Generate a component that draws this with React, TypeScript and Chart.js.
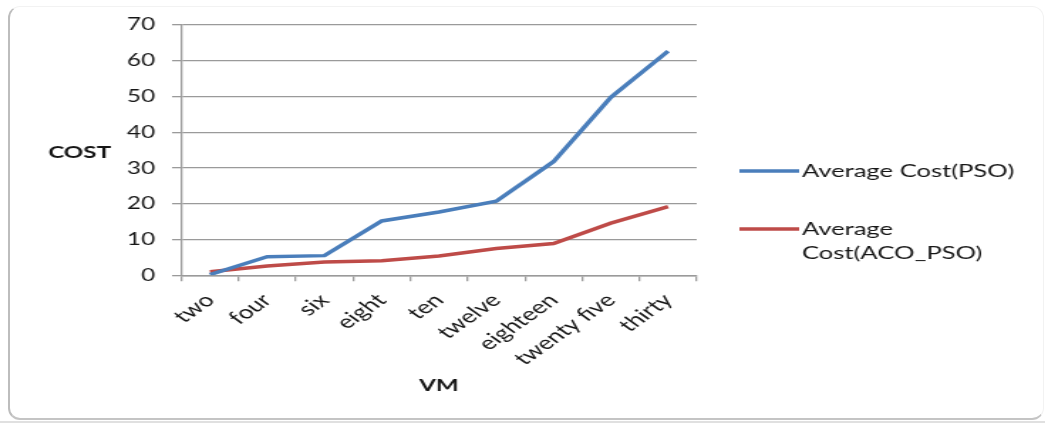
import React, { useEffect, useRef } from 'react';
import { Chart, registerables } from 'chart.js';

Chart.register(...registerables);

// ---- data ----
const categories = ['two', 'four', 'six', 'eight', 'ten', 'twelve', 'eighteen', 'twenty five', 'thirty'];
const psoCost = [0.2, 5.2, 5.5, 15.2, 17.7, 20.7, 31.8, 49.8, 62.7];
const acoPsoCost = [1.0, 2.6, 3.7, 4.1, 5.4, 7.5, 8.9, 14.6, 19.2];
const yMin = 0;
const yMax = 70;
const yStep = 10;
const yTitle = 'COST';
const xTitle = 'VM';
const seriesNames = ['Average Cost(PSO)', 'Average Cost(ACO_PSO)'];
const legendLines = [['Average Cost(PSO)'], ['Average', 'Cost(ACO_PSO)']];
const seriesColors = ['#4A7EBB', '#BE4B48'];

// ---- layout (the original picture is horizontally stretched) ----
const STRETCH = 1.42;
const FULL_W = 1045;
const FULL_H = 425;
const CW = FULL_W / STRETCH;
const FONT = 'Lato';
const GRID = '#9a9a9a';
const TEXT = '#161616';

const overlay = {
  id: 'overlay',
  afterDraw(chart: any) {
    const ctx = chart.ctx;
    const ca = chart.chartArea;
    ctx.save();
    ctx.fillStyle = TEXT;
    ctx.textAlign = 'center';
    ctx.textBaseline = 'middle';
    ctx.font = `bold 17px ${FONT}`;
    ctx.fillText(yTitle, 56, 153);
    ctx.fillText(xTitle, (ca.left + ca.right) / 2, 386);

    // legend
    const lx0 = 520;
    const lx1 = 562;
    const rows = [171, 229];
    ctx.font = `18px ${FONT}`;
    ctx.textAlign = 'left';
    legendLines.forEach((lines, i) => {
      const y = rows[i];
      ctx.strokeStyle = seriesColors[i];
      ctx.lineWidth = 3.5;
      ctx.beginPath();
      ctx.moveTo(lx0, y);
      ctx.lineTo(lx1, y);
      ctx.stroke();
      lines.forEach((t, j) => {
        ctx.fillText(t, lx1 + 2, y + j * 24);
      });
    });
    ctx.restore();
  },
};

export default function App() {
  const ref = useRef<HTMLCanvasElement | null>(null);

  useEffect(() => {
    if (!ref.current) return;
    const chart = new Chart(ref.current, {
      type: 'line',
      data: {
        labels: categories,
        datasets: [
          {
            label: seriesNames[0],
            data: psoCost,
            borderColor: seriesColors[0],
            backgroundColor: seriesColors[0],
            borderWidth: 3.5,
            pointRadius: 0,
            tension: 0,
            fill: false,
          },
          {
            label: seriesNames[1],
            data: acoPsoCost,
            borderColor: seriesColors[1],
            backgroundColor: seriesColors[1],
            borderWidth: 3.5,
            pointRadius: 0,
            tension: 0,
            fill: false,
          },
        ],
      },
      options: {
        animation: false,
        responsive: true,
        maintainAspectRatio: false,
        layout: { padding: { top: 25, right: CW - 490, bottom: FULL_H - 275.3 - 100, left: 0 } },
        plugins: { legend: { display: false }, tooltip: { enabled: false } },
        scales: {
          x: {
            offset: true,
            grid: { offset: true, drawOnChartArea: false, drawTicks: true, tickLength: 6, color: GRID, lineWidth: 1.3 },
            border: { color: GRID, width: 1.5 },
            ticks: {
              autoSkip: false,
              minRotation: 45,
              maxRotation: 45,
              padding: 8,
              color: TEXT,
              font: { family: FONT, size: 18.5 },
            },
            afterFit: (s: any) => {
              s.height = 100;
            },
          },
          y: {
            min: yMin,
            max: yMax,
            ticks: { stepSize: yStep, padding: 12, color: TEXT, font: { family: FONT, size: 17 } },
            grid: { color: GRID, lineWidth: 1.3, tickLength: 6.5 },
            border: { color: GRID, width: 1.3 },
            afterFit: (s: any) => {
              s.width = 127.5;
            },
          },
        },
      },
      plugins: [overlay],
    });
    return () => chart.destroy();
  }, []);

  return (
    <div style={{ position: 'fixed', left: 0, top: 0, width: FULL_W, height: FULL_H, background: '#fff', overflow: 'hidden' }}>
      <div
        style={{
          position: 'absolute',
          left: 8,
          top: 6,
          width: 1036,
          height: 414,
          borderLeft: '2px solid #bdbdbd',
          borderBottom: '2px solid #c4c4c4',
          borderTop: '1px solid #f2f2f2',
          borderRight: '1px solid #f2f2f2',
          borderRadius: 12,
          boxSizing: 'border-box',
        }}
      />
      <div style={{ position: 'absolute', left: 0, top: 421, width: FULL_W, height: 2, background: '#e0e0e0' }} />
      <div
        style={{
          position: 'absolute',
          left: 0,
          top: 0,
          width: CW,
          height: FULL_H,
          transform: `scaleX(${STRETCH})`,
          transformOrigin: '0 0',
        }}
      >
        <canvas ref={ref} />
      </div>
    </div>
  );
}
